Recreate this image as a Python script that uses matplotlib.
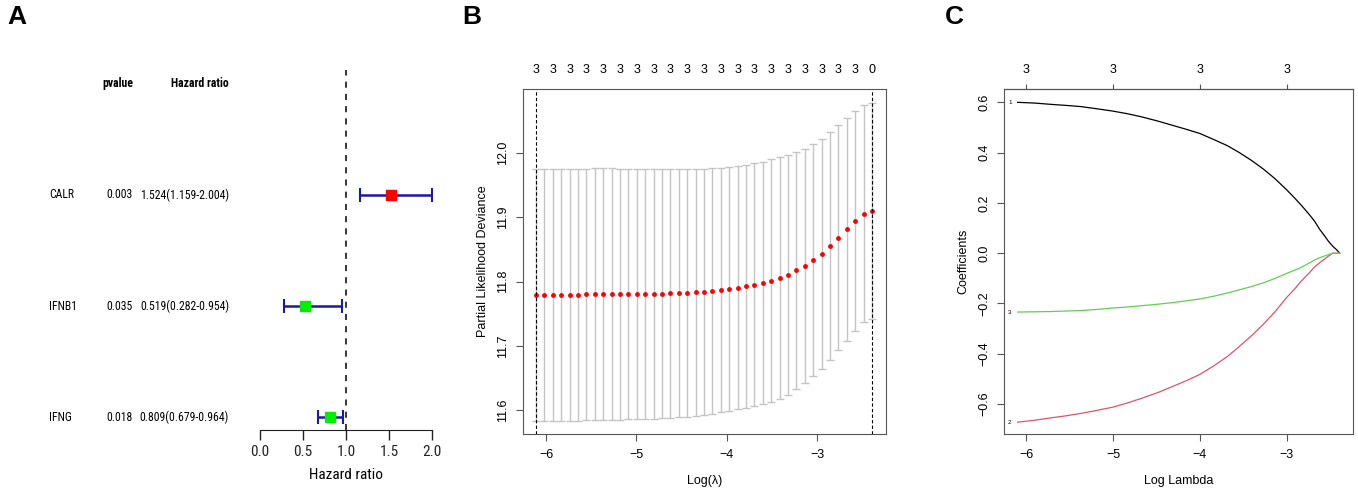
import matplotlib
matplotlib.use("Agg")
import matplotlib.pyplot as plt
import matplotlib.transforms as mtransforms

plt.rcParams['font.family'] = ['Liberation Sans', 'DejaVu Sans']
narrow = ['Roboto Condensed', 'Liberation Sans', 'DejaVu Sans']

# ---- panel A: univariate cox forest plot ----
genes = ["CALR", "IFNB1", "IFNG"]
pvalues = ["0.003", "0.035", "0.018"]
hr = [1.524, 0.519, 0.809]
hr_low = [1.159, 0.282, 0.679]
hr_high = [2.004, 0.954, 0.964]

# ---- panel B: cv curve ----
log_lambda = [-6.110, -6.017, -5.924, -5.831, -5.738, -5.645, -5.552, -5.459, -5.366, -5.273,
              -5.180, -5.087, -4.994, -4.901, -4.808, -4.715, -4.622, -4.529, -4.436, -4.343,
              -4.250, -4.157, -4.064, -3.971, -3.878, -3.785, -3.692, -3.599, -3.506, -3.413,
              -3.320, -3.227, -3.134, -3.041, -2.948, -2.855, -2.762, -2.669, -2.576, -2.483,
              -2.390]
cvm = [11.7795, 11.7795, 11.7795, 11.7796, 11.7796, 11.7797, 11.7798, 11.7799, 11.7800, 11.7801,
       11.7802, 11.7803, 11.7805, 11.7806, 11.7808, 11.7811, 11.7814, 11.7818, 11.7823, 11.7830,
       11.7840, 11.7851, 11.7865, 11.7882, 11.7902, 11.7924, 11.7948, 11.7977, 11.8013, 11.8054,
       11.8106, 11.8172, 11.8246, 11.8335, 11.8430, 11.8553, 11.8682, 11.8812, 11.8942, 11.9056,
       11.9097]
cvsd = [0.196, 0.196, 0.196, 0.196, 0.196, 0.196, 0.196, 0.196, 0.196, 0.196,
        0.195, 0.195, 0.195, 0.195, 0.194, 0.194, 0.194, 0.193, 0.193, 0.192,
        0.191, 0.191, 0.190, 0.190, 0.189, 0.189, 0.189, 0.189, 0.189, 0.188,
        0.187, 0.185, 0.182, 0.180, 0.179, 0.177, 0.175, 0.173, 0.171, 0.169,
        0.168]
nzero = [3] * 40 + [0]
lambda_min = -6.110
lambda_1se = -2.390

# ---- panel C: coefficient paths ----
path_lambda = [-6.10, -5.90, -5.72, -5.55, -5.37, -5.20, -5.00, -4.84, -4.68, -4.49,
               -4.30, -4.15, -4.00, -3.84, -3.68, -3.55, -3.41, -3.27, -3.14, -3.00,
               -2.91, -2.83, -2.75, -2.68, -2.62, -2.57, -2.52, -2.47, -2.42, -2.39]
coef1 = [0.600, 0.597, 0.592, 0.588, 0.583, 0.575, 0.565, 0.555, 0.543, 0.526,
         0.507, 0.492, 0.476, 0.452, 0.427, 0.401, 0.370, 0.335, 0.298, 0.252,
         0.220, 0.190, 0.158, 0.128, 0.095, 0.072, 0.048, 0.028, 0.012, 0.0]
coef2 = [-0.672, -0.664, -0.655, -0.647, -0.637, -0.626, -0.612, -0.596, -0.578, -0.555,
         -0.528, -0.506, -0.482, -0.448, -0.410, -0.372, -0.330, -0.283, -0.235, -0.176,
         -0.143, -0.110, -0.082, -0.055, -0.038, -0.025, -0.012, 0.0, 0.0, 0.0]
coef3 = [-0.234, -0.233, -0.232, -0.230, -0.228, -0.224, -0.218, -0.214, -0.209, -0.203,
         -0.196, -0.189, -0.182, -0.171, -0.158, -0.146, -0.133, -0.118, -0.101, -0.080,
         -0.068, -0.056, -0.041, -0.027, -0.018, -0.012, -0.006, 0.0, 0.0, 0.0]
top_ticks = [-6, -5, -4, -3]
top_labels = ["3", "3", "3", "3"]

W, H = 1358, 492
fig = plt.figure(figsize=(W / 100, H / 100), dpi=100)


def box(left, top, right, bottom):
    return [left / W, 1 - bottom / H, (right - left) / W, (bottom - top) / H]


fs = 9
frame_col = "#555555"

# ================= A =================
axA = fig.add_axes(box(260, 70, 432, 430))
axA.set_xlim(0, 2)
axA.set_ylim(0.883, 4.126)
for s in ["top", "right", "left"]:
    axA.spines[s].set_visible(False)
axA.spines["bottom"].set_bounds(0, 2)
axA.spines["bottom"].set_color("#222222")
axA.set_yticks([])
axA.set_xticks([0, 0.5, 1.0, 1.5, 2.0])
axA.set_xticklabels(["0.0", "0.5", "1.0", "1.5", "2.0"], family=narrow)
axA.tick_params(axis="x", labelsize=11, length=7, width=1, pad=4, colors="#222222")
axA.set_xlabel("Hazard ratio", fontsize=11, labelpad=6, family=narrow)
axA.axvline(1.0, color="black", lw=1.1, ls=(0, (4, 4)))

rows = [3, 2, 1]
for i in range(len(genes)):
    y = rows[i]
    axA.errorbar(hr[i], y, xerr=[[hr[i] - hr_low[i]], [hr_high[i] - hr[i]]],
                 fmt="none", ecolor="#1a1aa0", elinewidth=1.8, capsize=5, capthick=1.5)
    col = "#ff0000" if hr[i] > 1 else "#00ee00"
    axA.plot(hr[i], y, marker="s", color=col, markersize=7, linestyle="none")

tr = mtransforms.blended_transform_factory(fig.transFigure, axA.transData)
tfs = 8.5
axA.text(133 / W, 4.0, "pvalue", transform=tr, ha="right", va="center", fontsize=tfs,
         fontweight="bold", family=narrow)
axA.text(229 / W, 4.0, "Hazard ratio", transform=tr, ha="right", va="center", fontsize=tfs,
         fontweight="bold", family=narrow)
for i in range(len(genes)):
    y = rows[i]
    axA.text(49 / W, y, genes[i], transform=tr, ha="left", va="center", fontsize=tfs, family=narrow)
    axA.text(133 / W, y, pvalues[i], transform=tr, ha="right", va="center", fontsize=tfs, family=narrow)
    label = "%.3f(%.3f-%.3f)" % (hr[i], hr_low[i], hr_high[i])
    axA.text(229 / W, y, label, transform=tr, ha="right", va="center", fontsize=tfs, family=narrow)

# ================= B =================
axB = fig.add_axes(box(523, 89, 886, 434))
axB.errorbar(log_lambda, cvm, yerr=cvsd, fmt="none", ecolor="#c4c4c4",
             elinewidth=1.0, capsize=3, capthick=1.0)
axB.plot(log_lambda, cvm, "o", color="#ff0000", markersize=3.5, markeredgewidth=0)
axB.axvline(lambda_min, color="black", lw=0.8, ls=(0, (3, 2)))
axB.axvline(lambda_1se, color="black", lw=0.8, ls=(0, (3, 2)))
axB.set_xlim(-6.255, -2.236)
axB.set_ylim(11.5627, 12.0996)
axB.set_xticks([-6, -5, -4, -3])
axB.set_xticklabels(["\u22126", "\u22125", "\u22124", "\u22123"])
axB.set_yticks([11.6, 11.7, 11.8, 11.9, 12.0])
axB.set_yticklabels(["11.6", "11.7", "11.8", "11.9", "12.0"], rotation=90, va="center")
axB.tick_params(labelsize=fs, length=5, color=frame_col, pad=6)
axB.tick_params(axis="y", pad=5)
axB.set_xlabel("Log(\u03bb)", fontsize=fs, labelpad=10)
axB.set_ylabel("Partial Likelihood Deviance", fontsize=fs, labelpad=6)
for s in axB.spines.values():
    s.set_color(frame_col)
topB = axB.secondary_xaxis("top")
topB.set_xticks(log_lambda[::2])
topB.set_xticklabels([str(n) for n in nzero[::2]])
topB.tick_params(length=0, labelsize=fs, pad=9)
topB.spines["top"].set_visible(False)

# ================= C =================
axC = fig.add_axes(box(1004, 89, 1353, 434))
axC.plot(path_lambda, coef1, color="black", lw=0.9)
axC.plot(path_lambda, coef2, color="#DF536B", lw=0.9)
axC.plot(path_lambda, coef3, color="#61D04F", lw=0.9)
axC.text(-6.17, coef1[0], "1", fontsize=4.5, ha="right", va="center")
axC.text(-6.17, coef2[0], "2", fontsize=4.5, ha="right", va="center")
axC.text(-6.17, coef3[0], "3", fontsize=4.5, ha="right", va="center")
axC.set_xlim(-6.257, -2.236)
axC.set_ylim(-0.719, 0.653)
axC.set_xticks([-6, -5, -4, -3])
axC.set_xticklabels(["\u22126", "\u22125", "\u22124", "\u22123"])
yt = [-0.6, -0.4, -0.2, 0.0, 0.2, 0.4, 0.6]
axC.set_yticks(yt)
axC.set_yticklabels(["\u22120.6", "\u22120.4", "\u22120.2", "0.0", "0.2", "0.4", "0.6"],
                    rotation=90, va="center")
axC.tick_params(labelsize=fs, length=5, color=frame_col, pad=6)
axC.tick_params(axis="y", pad=5)
axC.set_xlabel("Log Lambda", fontsize=fs, labelpad=10)
axC.set_ylabel("Coefficients", fontsize=fs, labelpad=6)
for s in axC.spines.values():
    s.set_color(frame_col)
topC = axC.secondary_xaxis("top")
topC.set_xticks(top_ticks)
topC.set_xticklabels(top_labels)
topC.tick_params(length=3.6, labelsize=fs, pad=5.5, color=frame_col)

# panel letters
for x, letter in [(7, "A"), (462, "B"), (945, "C")]:
    fig.text(x / W, 1 - 5 / H, letter, fontsize=19, fontweight="bold", va="top")

fig.savefig("out.png", dpi=100)
